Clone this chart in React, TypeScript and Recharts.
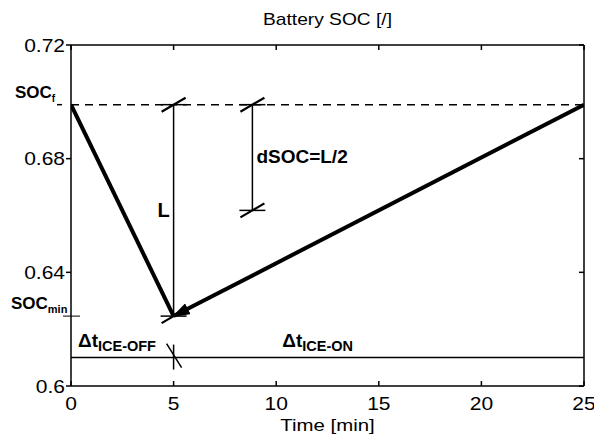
import React from 'react';
import { LineChart, Line, XAxis, YAxis, ReferenceLine, ReferenceDot } from 'recharts';

const FONT = "'Liberation Sans', Arial, Helvetica, sans-serif";

// Axis ticks
const timeTicks = [0, 5, 10, 15, 20, 25];
const socTicks = [0.6, 0.64, 0.68, 0.72];

// Key values
const socF = 0.699;
const socMin = 0.6246;
const socHalf = 0.6618;
const socBase = 0.61;
const tStart = 0;
const tSwitch = 5;
const tEnd = 25;
const tDsoc = 8.84;

// Series
const dischargeData = [
  { t: tStart, soc: socF },
  { t: tSwitch, soc: socMin },
];
const chargeData = [
  { t: tEnd, soc: socF },
  { t: tSwitch, soc: socMin },
];
const lData = [
  { t: tSwitch, soc: socMin },
  { t: tSwitch, soc: socF },
];
const dsocData = [
  { t: tDsoc, soc: socF },
  { t: tDsoc, soc: socHalf },
];

// Annotation anchors (data units)
const onLabelT = 10.3;

const SX = 1.2;

const STxt = ({ x, y, anchor = 'middle', size = 17.5, children }: any) => (
  <text
    transform={`translate(${x},${y}) scale(${SX},1)`}
    x={0}
    y={0}
    textAnchor={anchor}
    fontSize={size}
    fontFamily={FONT}
    fill="#000"
  >
    {children}
  </text>
);

const BottomTick = (p: any) => (
  <g>
    <STxt x={p.x} y={p.y + 24}>{p.payload.value}</STxt>
  </g>
);
const LeftTick = (p: any) => (
  <g>
    <STxt x={p.x} y={p.y + 6.5} anchor="end">{p.payload.value}</STxt>
  </g>
);
const NoTick = () => <g />;

const SlantMark = (p: any) => {
  const { cx, cy } = p;
  if (cx == null || cy == null) return <g key={p.index} />;
  return (
    <g key={`m-${p.index}`}>
      <line x1={cx - 13} y1={cy} x2={cx + 13} y2={cy} stroke="#000" strokeWidth={1.5} />
      <line x1={cx - 12} y1={cy + 7} x2={cx + 12} y2={cy - 7} stroke="#000" strokeWidth={2.2} />
    </g>
  );
};

const bold = { fontFamily: FONT, fontWeight: 'bold' as const, fill: '#000' };

export default function App() {
  return (
    <div style={{ position: 'absolute', left: 0, top: 0, width: 594, height: 437, background: '#fff' }}>
      <LineChart
        width={594}
        height={437}
        margin={{ top: 44, right: 9, bottom: 0, left: 0 }}
      >
        <defs>
          <marker
            id="arrowHead"
            markerUnits="userSpaceOnUse"
            markerWidth={18}
            markerHeight={12}
            refX={16}
            refY={6}
            orient="auto"
          >
            <path d="M0,0 L18,6 L0,12 z" fill="#000" />
          </marker>
        </defs>
        <XAxis
          dataKey="t"
          type="number"
          domain={[0, 25]}
          ticks={timeTicks}
          allowDataOverflow
          height={51}
          tickSize={-5}
          tickMargin={5}
          stroke="#000"
          strokeWidth={1.5}
          tick={BottomTick}
          label={{
            content: (props: any) => {
              const vb = props.viewBox || {};
              return (
                <STxt x={vb.x + vb.width / 2} y={431} size={17}>
                  Time [min]
                </STxt>
              );
            },
          }}
        />
        <XAxis
          xAxisId="top"
          orientation="top"
          dataKey="t"
          type="number"
          domain={[0, 25]}
          ticks={timeTicks}
          allowDataOverflow
          height={1}
          tickSize={-5}
          tickMargin={0}
          stroke="#000"
          strokeWidth={1.5}
          tick={NoTick}
          label={{
            content: (props: any) => {
              const vb = props.viewBox || {};
              return (
                <STxt x={vb.x + vb.width / 2} y={25} size={16}>
                  Battery SOC [/]
                </STxt>
              );
            },
          }}
        />
        <YAxis
          type="number"
          domain={[0.6, 0.72]}
          ticks={socTicks}
          allowDataOverflow
          width={71}
          tickSize={5}
          tickMargin={1}
          stroke="#000"
          strokeWidth={1.5}
          tick={LeftTick}
        />
        <YAxis
          yAxisId="right"
          orientation="right"
          type="number"
          domain={[0.6, 0.72]}
          ticks={socTicks}
          allowDataOverflow
          width={1}
          tickSize={-5}
          tickMargin={0}
          stroke="#000"
          strokeWidth={1.5}
          tick={NoTick}
        />

        <ReferenceLine y={socF} stroke="#000" strokeWidth={1.5} strokeDasharray="8 6" />
        <ReferenceLine y={socBase} stroke="#000" strokeWidth={1.5} />

        <Line
          data={lData}
          dataKey="soc"
          stroke="#000"
          strokeWidth={1.5}
          dot={(p: any) => <SlantMark key={`l-${p.index}`} {...p} />}
          activeDot={false}
          isAnimationActive={false}
        />
        <Line
          data={dsocData}
          dataKey="soc"
          stroke="#000"
          strokeWidth={1.5}
          dot={(p: any) => <SlantMark key={`d-${p.index}`} {...p} />}
          activeDot={false}
          isAnimationActive={false}
        />
        <Line
          data={dischargeData}
          dataKey="soc"
          stroke="#000"
          strokeWidth={4}
          dot={false}
          activeDot={false}
          isAnimationActive={false}
        />
        <Line
          data={chargeData}
          dataKey="soc"
          stroke="#000"
          strokeWidth={4}
          dot={false}
          activeDot={false}
          markerEnd="url(#arrowHead)"
          isAnimationActive={false}
        />

        <ReferenceDot
          x={tSwitch}
          y={socBase}
          r={0}
          ifOverflow="visible"
          shape={(p: any) => (
            <g>
              <line x1={p.cx} y1={p.cy - 13} x2={p.cx} y2={p.cy + 12} stroke="#000" strokeWidth={1.5} />
              <line x1={p.cx - 7} y1={p.cy - 14} x2={p.cx + 8} y2={p.cy + 10} stroke="#000" strokeWidth={1.5} />
            </g>
          )}
        />
        <ReferenceDot
          x={tStart}
          y={socF}
          r={0}
          ifOverflow="visible"
          shape={(p: any) => (
            <g>
              <line x1={p.cx - 14} y1={p.cy} x2={p.cx - 9} y2={p.cy} stroke="#000" strokeWidth={1.5} />
              <text x={p.cx - 56} y={p.cy - 7} fontSize={17} {...bold}>
                SOC<tspan fontSize={10} dy={4}>f</tspan>
              </text>
            </g>
          )}
        />
        <ReferenceDot
          x={tStart}
          y={socMin}
          r={0}
          ifOverflow="visible"
          shape={(p: any) => (
            <g>
              <line x1={p.cx - 8} y1={p.cy} x2={p.cx + 9} y2={p.cy} stroke="#000" strokeWidth={1} />
              <text x={p.cx - 60} y={p.cy - 7} fontSize={17} {...bold}>
                SOC<tspan fontSize={11} dy={4}>min</tspan>
              </text>
            </g>
          )}
        />
        <ReferenceDot
          x={tSwitch}
          y={(socF + socMin) / 2}
          r={0}
          ifOverflow="visible"
          shape={(p: any) => (
            <text x={p.cx - 16} y={p.cy + 7} fontSize={20} {...bold}>
              L
            </text>
          )}
        />
        <ReferenceDot
          x={tDsoc}
          y={(socF + socHalf) / 2}
          r={0}
          ifOverflow="visible"
          shape={(p: any) => (
            <text x={p.cx + 4} y={p.cy + 5} fontSize={19} {...bold}>
              dSOC=L/2
            </text>
          )}
        />
        <ReferenceDot
          x={tStart}
          y={socBase}
          r={0}
          ifOverflow="visible"
          shape={(p: any) => (
            <text x={p.cx + 7} y={p.cy - 11} fontSize={19} {...bold}>
              Δt<tspan fontSize={14.5} dy={4}>ICE-OFF</tspan>
            </text>
          )}
        />
        <ReferenceDot
          x={onLabelT}
          y={socBase}
          r={0}
          ifOverflow="visible"
          shape={(p: any) => (
            <text x={p.cx} y={p.cy - 11} fontSize={19} {...bold}>
              Δt<tspan fontSize={14.5} dy={4}>ICE-ON</tspan>
            </text>
          )}
        />
      </LineChart>
    </div>
  );
}
